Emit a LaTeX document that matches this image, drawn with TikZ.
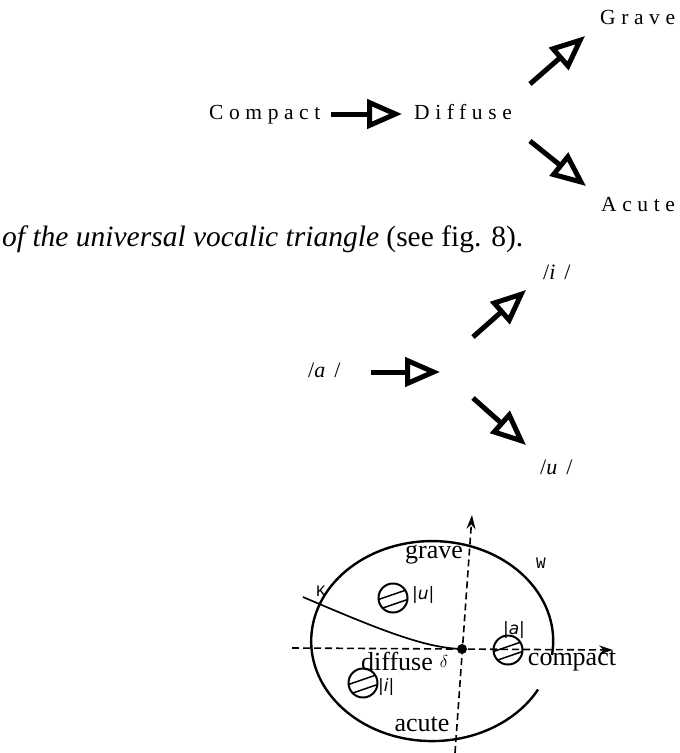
\documentclass[tikz,border=0pt]{standalone}
\usepackage{fontspec}
\setmainfont{Liberation Serif}
\newfontfamily\typefont{Liberation Mono}
\newfontfamily\handfont{DejaVu Sans}
\usepackage{tikz}
\usetikzlibrary{arrows.meta}

\begin{document}
\begin{tikzpicture}[x=1pt,y=-1pt,
  spaced/.style={font=\fontsize{21.5}{24}\selectfont\addfontfeature{LetterSpace=26},inner sep=0pt},
  vowel/.style={font=\fontsize{22}{24}\selectfont,inner sep=0pt},
  fat/.style={line width=5pt,-{Triangle[open,length=35pt,width=29pt,line width=5pt]}},
  axis/.style={line width=1.6pt,dash pattern=on 7pt off 4pt,-{Stealth[length=14pt,width=9pt]}},
  word/.style={font=\fontsize{26}{28}\selectfont,inner sep=0pt},
  tag/.style={font=\fontsize{16}{17}\selectfont\typefont,inner sep=0pt},
  ball/.style={circle,draw,line width=2pt,minimum size=29pt,inner sep=0pt,
    path picture={\draw[line width=1.5pt] (path picture bounding box.center)++(-16,2)--++(32,-11)
      (path picture bounding box.center)++(-16,12)--++(32,-11);}},
  balltag/.style={font=\fontsize{17}{18}\selectfont\handfont\itshape,inner sep=0pt}]
\useasboundingbox (0,0) rectangle (680,753);
% features
\node[spaced,anchor=base west] (compact) at (209,119) {Compact};
\node[spaced,anchor=base west] (diffuse) at (414,119) {Diffuse};
\node[spaced,anchor=base west] (grave) at (600,24) {Grave};
\node[spaced,anchor=base west] (acute) at (601,211) {Acute};
\coordinate (c1) at (331,114); \coordinate (c2) at (402,114);
\coordinate (g1) at (530,84); \coordinate (g2) at (585,36);
\coordinate (a1) at (530,141); \coordinate (a2) at (586,186);
\draw[fat](c1)--(c2);
\draw[fat](g1)--(g2);
\draw[fat](a1)--(a2);
\node[anchor=base west,inner sep=0pt,font=\fontsize{29.5}{31}\selectfont] (caption) at (2,246)
  {\textit{of the universal vocalic triangle} (see fig. 8).};
% vowels
\node[vowel,anchor=base west] (va) at (308,377) {/\textit{a}\hspace{9pt}/};
\node[vowel,anchor=base west] (vi) at (543,279) {/\textit{i}\hspace{9pt}/};
\node[vowel,anchor=base west] (vu) at (540,474) {/\textit{u}\hspace{9pt}/};
\coordinate (m1) at (371,372); \coordinate (m2) at (440,372);
\coordinate (i1) at (473,337); \coordinate (i2) at (526,290);
\coordinate (u1) at (473,398); \coordinate (u2) at (526,445);
\draw[fat](m1)--(m2);
\draw[fat](i1)--(i2);
\draw[fat](u1)--(u2);
% plane
\coordinate (o) at (462,649);
\coordinate (hl) at (292,648); \coordinate (hr) at (613,650);
\coordinate (vb) at (455,753); \coordinate (vt) at (472,515);
\draw[axis](hl)--(hr);
\draw[axis](vb)--(vt);
\draw[line width=2.4pt](552,655) arc[start angle=8,end angle=-331,x radius=121,y radius=100];
\coordinate (k) at (303,597);
\draw[line width=1.7pt](k)..controls(380,630)and(425,648)..(o);
\fill (o) circle (5);
\node[word] (wgrave) at (434,555) {grave};
\node[word] (wdiffuse) at (397,661) {diffuse};
\node[word] (wacute) at (422,724) {acute};
\node[word] (wcompact) at (572,661) {compact};
\node[tag] (tk) at (321,591) {K};
\node[tag] (tw) at (541,563) {W};
\node[font=\fontsize{16}{17}\selectfont,inner sep=0pt] (td) at (444,661) {$\delta$};
\node[ball] (bu) at (393,598) {};
\node[ball] (ba) at (508,650) {};
\node[ball] (bi) at (363,683) {};
\node[balltag,anchor=west] at (412,595) {|u|};
\node[balltag] at (514,630) {|a|};
\node[balltag,anchor=west] at (378,687) {|i|};
\end{tikzpicture}
\end{document}
